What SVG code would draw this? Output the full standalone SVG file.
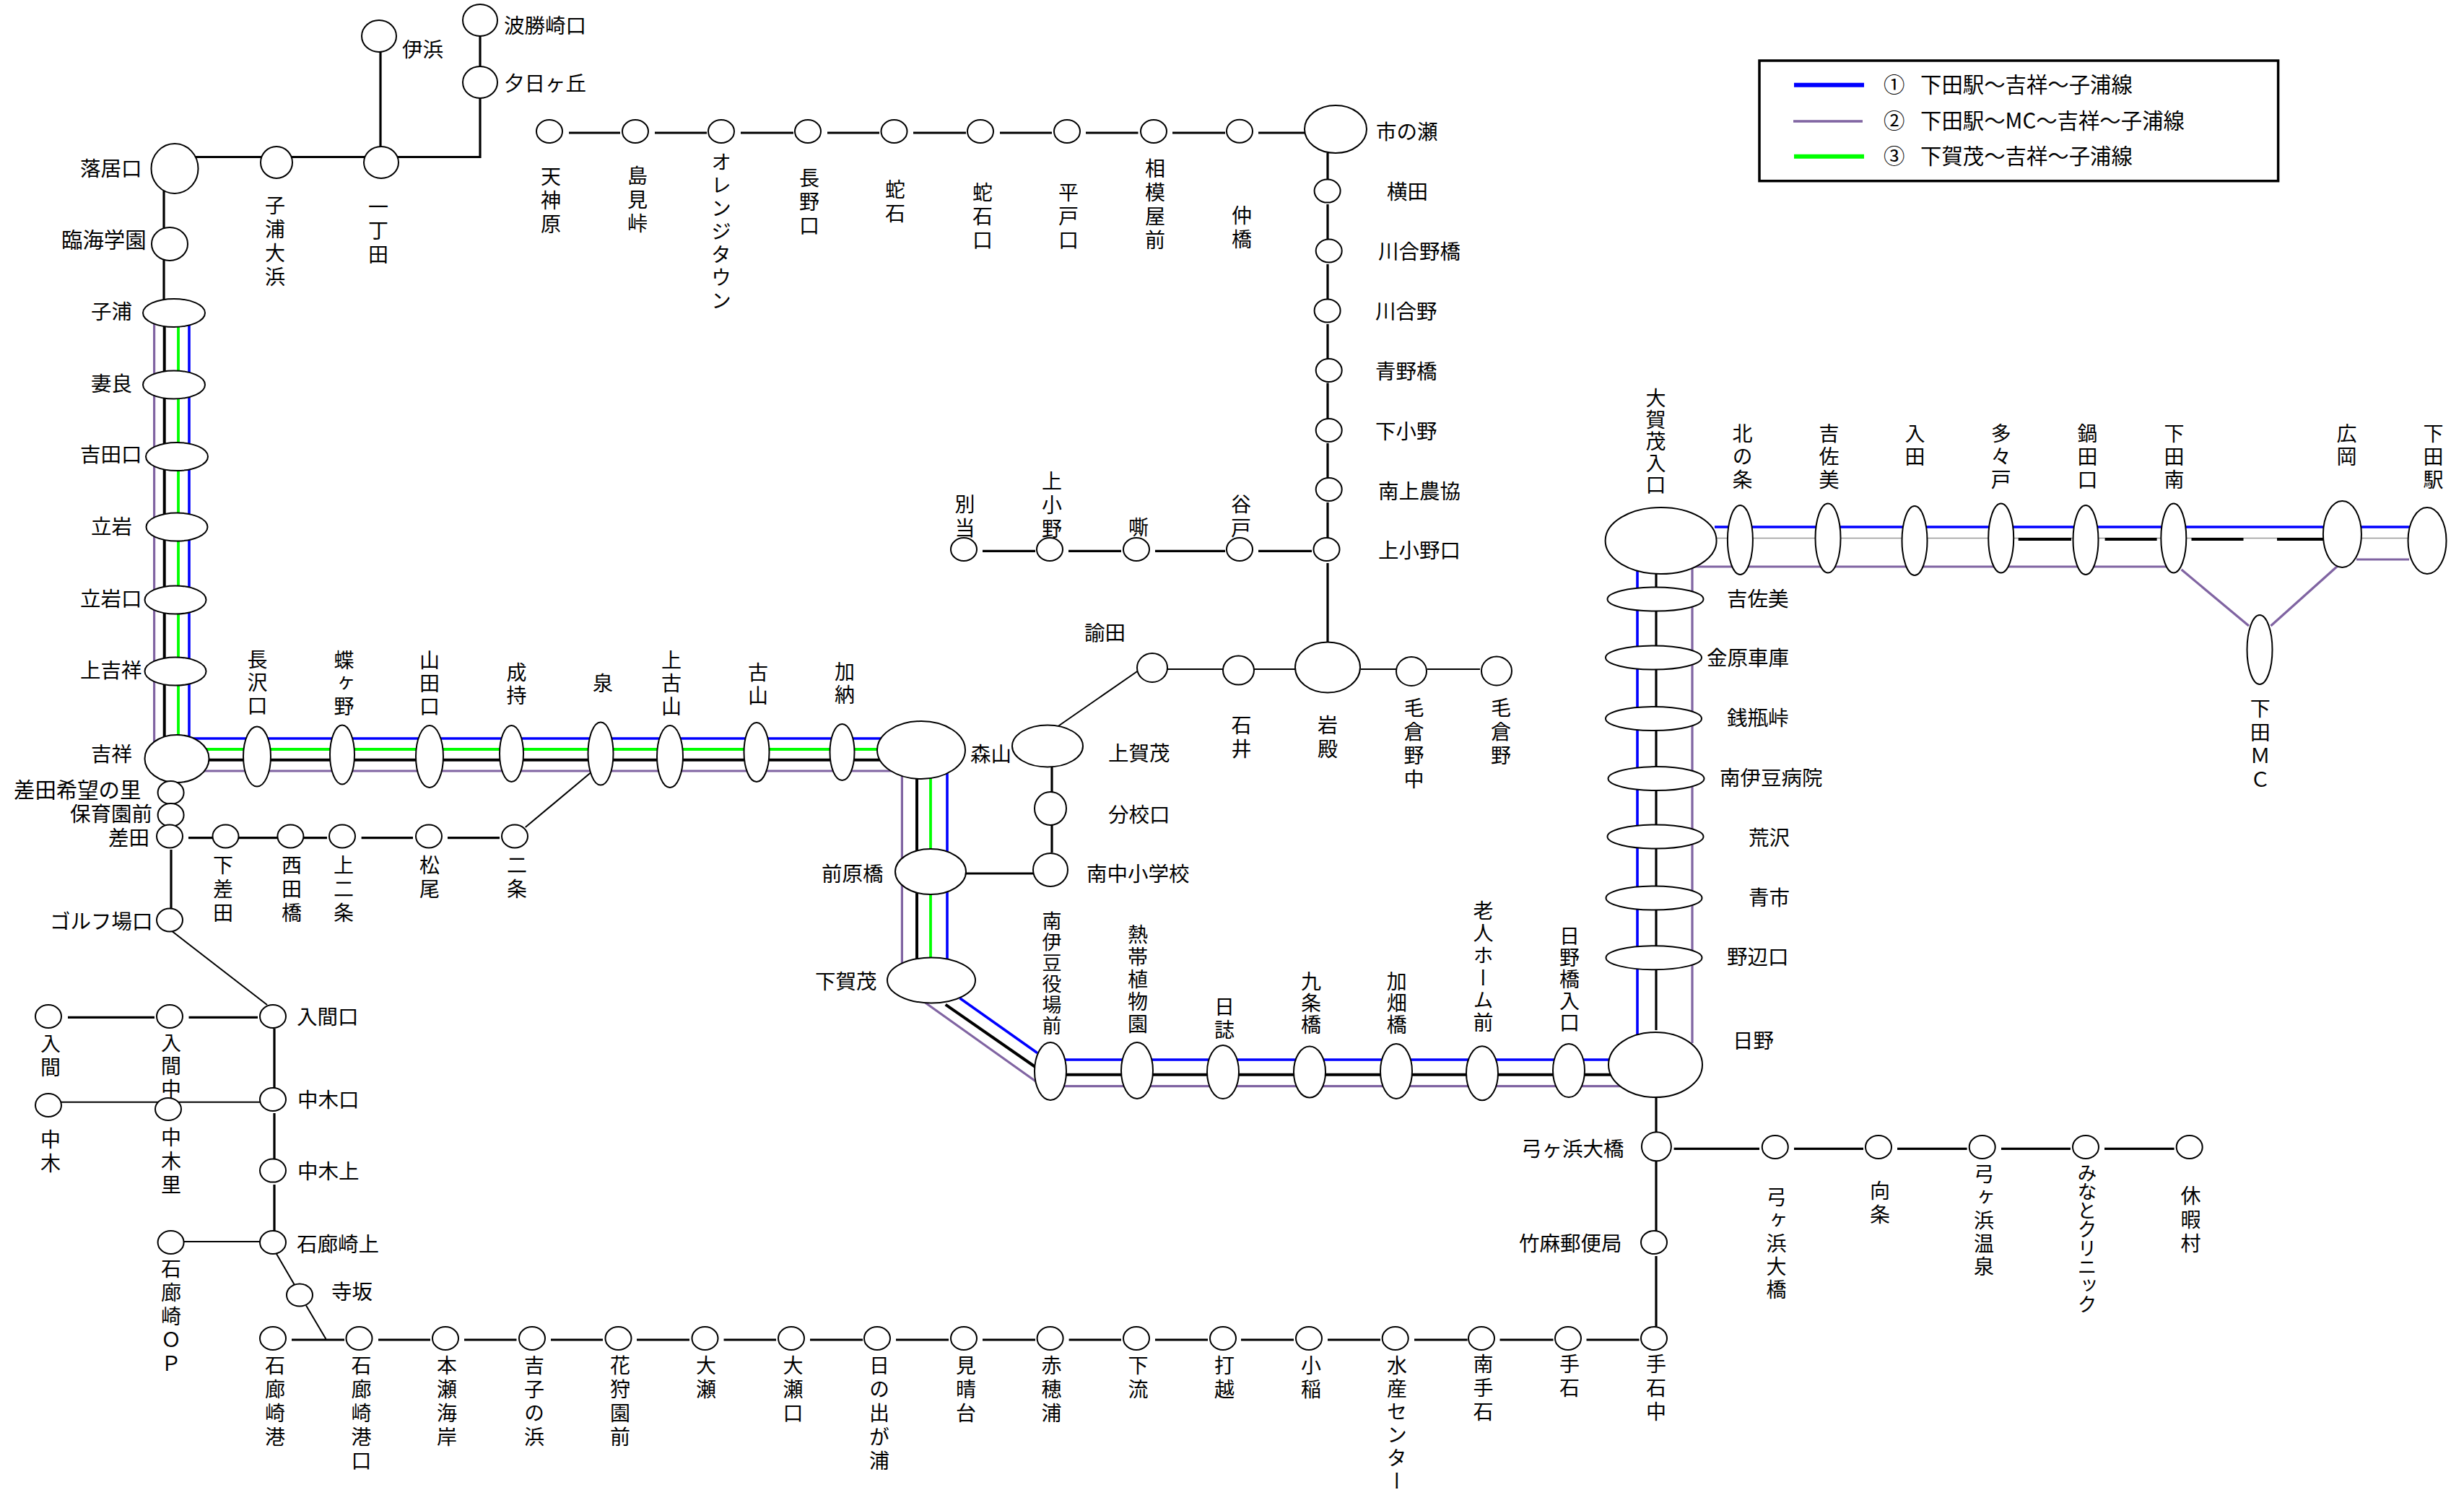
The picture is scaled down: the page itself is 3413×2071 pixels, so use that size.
<svg xmlns="http://www.w3.org/2000/svg" width="3413" height="2071" viewBox="0 0 3413 2071">
<style>
text{font-family:"Noto Sans CJK JP","Noto Sans",sans-serif;font-size:28.5px;fill:#000}
.w{font-size:29.4px}
.v{writing-mode:vertical-rl;text-orientation:upright;font-size:28px;letter-spacing:5px}
.p27{letter-spacing:-1px;font-size:27px}.p29{letter-spacing:2px;font-size:27px}.p30{letter-spacing:2px}.p31{letter-spacing:3px}.p32{letter-spacing:4px}
ellipse{fill:#fff;stroke:#000;stroke-width:2}
path{fill:none}
.k{stroke:#000;stroke-width:3.2}.t{stroke:#000;stroke-width:2}.g{stroke:#999;stroke-width:1.5}.d{stroke:#000;stroke-width:4}
.b{stroke:#00f;stroke-width:3.6}.u{stroke:#8064a2;stroke-width:3.2}.n{stroke:#0f0;stroke-width:3.8}
</style>
<g id="connectors">
<path class="k" d="M227 234V433M270 217.5H665V28M527 50V225"/>
<path class="k" d="M788 184H859M907 184H979M1026 184H1099M1146 184H1218M1265 184H1338M1385 184H1457M1504 184H1576.5M1624 184H1697M1743 184H1807"/>
<path class="k" d="M1839 212V248.6M1839 283V331.5M1839 366V414.4M1839 449V497M1839 530.6V580M1839 614V663M1839 696V746M1839 780V892"/>
<path class="k" d="M1361 763.3H1434M1480 763.3H1553M1600 763.3H1697M1743 763.3H1817"/>
<path class="t" d="M1465.6 1006L1576 929.5M1617 927H1695M1737 927H1794M1885 927H1934M1977 927H2050"/>
<path class="k" d="M1457 1061.6V1097M1457 1143V1181M1338 1210H1432"/>
<path class="b" d="M262 433V1023H1235"/>
<path class="n" d="M247 433V1051M245 1038H1235"/>
<path class="d" d="M227.7 433V1051M245 1052.7H1235"/>
<path class="u" d="M213.6 433V1051M245 1068H1249.4V1358"/>
<path class="b" d="M1312 1039V1358"/>
<path class="n" d="M1289 1039V1358"/>
<path class="d" d="M1270 1039V1358"/>
<path class="b" d="M1329.5 1382.7L1437 1458.7M1455 1468H2293"/>
<path class="d" d="M1309.7 1391.7L1434 1478M1455 1488.7H2293"/>
<path class="u" d="M1281.6 1389L1434.7 1498M1455 1504.7H2293"/>
<path class="b" d="M2268 749V1475"/>
<path class="k" d="M2294 795V1427M2294 1520V1568"/>
<path class="u" d="M2344 749V1445"/>
<path class="b" d="M2375 730H3340"/>
<path class="g" d="M2377 745.5H3337"/>
<path class="d" d="M2795.7 747H2869M2915.6 747H2987.6M3035.5 747H3107.5M3154 747H3218"/>
<path class="u" d="M2347 785H3005M3021.6 789L3115 867M3145.4 867L3238 784M3264 775H3337"/>
<path class="k" d="M2318.6 1591.3H2437M2485 1591.3H2581M2628 1591.3H2724.6M2772 1591.3H2868M2915 1591.3H3011.6"/>
<path class="k" d="M2294 1608V1705.7M2294 1740V1837.7"/>
<path class="k" d="M404 1856H477M524 1856H596M643 1856H715.5M763 1856H835M882 1856H955M1002.5 1856H1075M1122 1856H1195M1241 1856H1314M1361 1856H1434M1480.6 1856H1553M1600 1856H1673M1719 1856H1792M1839 1856H1912M1959 1856H2032.6M2077.5 1856H2151.5M2197.5 1856H2270.5"/>
<path class="k" d="M261 1160.7H296M330 1160.7H384.6M421 1160.7H453M500.6 1160.7H572M620 1160.7H692"/>
<path class="t" d="M727.7 1146L818 1070.5"/>
<path class="k" d="M237 1177V1258"/>
<path class="t" d="M237 1289L370 1392"/>
<path class="k" d="M94 1409.4H214M261.5 1409.4H357"/>
<path class="t" d="M85 1526.7H370M255 1720H362"/>
<path class="k" d="M380 1425V1507M380 1542V1606M380 1641V1706"/>
<path class="t" d="M383 1737L408 1780M424 1808.6L451.5 1855"/>
</g>
<g id="s01"><ellipse cx="665" cy="28" rx="24" ry="22"/><text x="698" y="46">波勝崎口</text></g>
<g id="s02"><ellipse cx="665" cy="114" rx="24" ry="22"/><text x="698" y="126">夕日ヶ丘</text></g>
<g id="s03"><ellipse cx="525" cy="50" rx="24" ry="22"/><text x="557" y="79">伊浜</text></g>
<g id="s04"><ellipse cx="528" cy="225" rx="24" ry="22"/><text class="v" x="524" y="272">一丁田</text></g>
<g id="s05"><ellipse cx="383" cy="225" rx="22" ry="22"/><text class="v" x="381" y="270">子浦大浜</text></g>
<g id="s06"><ellipse cx="242" cy="233.5" rx="32.5" ry="34.5"/><text x="111" y="244">落居口</text></g>
<g id="s07"><ellipse cx="235" cy="338" rx="25" ry="23"/><text class="w" x="85" y="343">臨海学園</text></g>
<g id="s08"><ellipse cx="241" cy="433.5" rx="43" ry="19.5"/><text x="126" y="442">子浦</text></g>
<g id="s09"><ellipse cx="241" cy="533" rx="43" ry="19.5"/><text x="126" y="542">妻良</text></g>
<g id="s10"><ellipse cx="245" cy="632.5" rx="43" ry="19.5"/><text x="111" y="640">吉田口</text></g>
<g id="s11"><ellipse cx="245" cy="730" rx="42.5" ry="19.5"/><text x="126" y="740">立岩</text></g>
<g id="s12"><ellipse cx="243" cy="831" rx="42.5" ry="19.5"/><text x="111" y="840">立岩口</text></g>
<g id="s13"><ellipse cx="243" cy="930" rx="42.5" ry="19.5"/><text x="111" y="939">上吉祥</text></g>
<g id="s14"><ellipse cx="245" cy="1051" rx="44.5" ry="33"/><text x="126" y="1055">吉祥</text></g>
<g id="s15"><ellipse cx="236.6" cy="1098" rx="18" ry="16"/><text class="w" x="19" y="1105">差田希望の里</text></g>
<g id="s16"><ellipse cx="236.6" cy="1129" rx="18" ry="16"/><text x="97" y="1138">保育園前</text></g>
<g id="s17"><ellipse cx="235" cy="1158.5" rx="18" ry="16"/><text x="150" y="1171">差田</text></g>
<g id="s18"><ellipse cx="312.5" cy="1158.5" rx="18" ry="16"/><text class="v" x="309" y="1184">下差田</text></g>
<g id="s19"><ellipse cx="402.4" cy="1158.5" rx="18" ry="16"/><text class="v" x="404" y="1184">西田橋</text></g>
<g id="s20"><ellipse cx="474" cy="1158.5" rx="18" ry="16"/><text class="v" x="476" y="1184">上二条</text></g>
<g id="s21"><ellipse cx="594" cy="1158.5" rx="18" ry="16"/><text class="v" x="595" y="1184">松尾</text></g>
<g id="s22"><ellipse cx="713" cy="1158.5" rx="18" ry="16"/><text class="v" x="716" y="1184">二条</text></g>
<g id="s23"><ellipse cx="235" cy="1274.5" rx="18" ry="16"/><text x="69" y="1287">ゴルフ場口</text></g>
<g id="s24"><ellipse cx="378" cy="1408" rx="18" ry="16"/><text x="411" y="1419">入間口</text></g>
<g id="s25"><ellipse cx="235" cy="1408" rx="18" ry="16"/></g>
<g id="s26"><ellipse cx="67" cy="1408" rx="18" ry="16"/><text class="v" x="70" y="1431">入間</text></g>
<g id="s27"><ellipse cx="67" cy="1531" rx="18" ry="16"/><text class="v" x="70" y="1564">中木</text></g>
<g id="s28"><ellipse cx="233" cy="1536.5" rx="18" ry="15.5"/><text class="v" x="237" y="1561">中木里</text></g>
<text id="s25-label" class="v p32" x="237" y="1430">入間中</text>
<g id="s29"><ellipse cx="378" cy="1523" rx="18" ry="16"/><text x="412" y="1534">中木口</text></g>
<g id="s30"><ellipse cx="378" cy="1621.6" rx="18" ry="16"/><text x="412" y="1633">中木上</text></g>
<g id="s31"><ellipse cx="378" cy="1721" rx="18" ry="16"/><text x="411" y="1734">石廊崎上</text></g>
<g id="s32"><ellipse cx="236.6" cy="1721" rx="18" ry="16"/><text class="v" x="237" y="1743">石廊崎ＯＰ</text></g>
<g id="s33"><ellipse cx="415" cy="1794" rx="18" ry="15.5"/><text x="459" y="1800">寺坂</text></g>
<g id="s34"><ellipse cx="378" cy="1854" rx="18" ry="16"/><text class="v" x="381" y="1877">石廊崎港</text></g>
<g id="s35"><ellipse cx="497.5" cy="1854" rx="18" ry="16"/><text class="v" x="500.6" y="1877">石廊崎港口</text></g>
<g id="s36"><ellipse cx="617" cy="1854" rx="18" ry="16"/><text class="v" x="619" y="1877">本瀬海岸</text></g>
<g id="s37"><ellipse cx="737" cy="1854" rx="18" ry="16"/><text class="v" x="740" y="1877">吉子の浜</text></g>
<g id="s38"><ellipse cx="856.5" cy="1854" rx="18" ry="16"/><text class="v" x="859" y="1877">花狩園前</text></g>
<g id="s39"><ellipse cx="976.5" cy="1854" rx="18" ry="16"/><text class="v" x="978" y="1877">大瀬</text></g>
<g id="s40"><ellipse cx="1096" cy="1854" rx="18" ry="16"/><text class="v" x="1098.5" y="1877">大瀬口</text></g>
<g id="s41"><ellipse cx="1215" cy="1854" rx="18" ry="16"/><text class="v" x="1218" y="1877">日の出が浦</text></g>
<g id="s42"><ellipse cx="1335" cy="1854" rx="18" ry="16"/><text class="v" x="1338" y="1877">見晴台</text></g>
<g id="s43"><ellipse cx="1454.6" cy="1854" rx="18" ry="16"/><text class="v" x="1456.6" y="1877">赤穂浦</text></g>
<g id="s44"><ellipse cx="1574" cy="1854" rx="18" ry="16"/><text class="v" x="1576.5" y="1877">下流</text></g>
<g id="s45"><ellipse cx="1694" cy="1854" rx="18" ry="16"/><text class="v" x="1696" y="1877">打越</text></g>
<g id="s46"><ellipse cx="1813" cy="1854" rx="18" ry="16"/><text class="v" x="1816" y="1877">小稲</text></g>
<g id="s47"><ellipse cx="1932.7" cy="1854" rx="18" ry="16"/><text class="v p32" x="1935" y="1877">水産センター</text></g>
<g id="s48"><ellipse cx="2052" cy="1854" rx="18" ry="16"/><text class="v" x="2054.6" y="1875">南手石</text></g>
<g id="s49"><ellipse cx="2172" cy="1854" rx="18" ry="16"/><text class="v" x="2174" y="1875">手石</text></g>
<g id="s50"><ellipse cx="2291" cy="1854" rx="18" ry="16"/><text class="v" x="2294" y="1875">手石中</text></g>
<g id="s51"><ellipse cx="2291" cy="1721" rx="18" ry="16"/><text x="2104" y="1733">竹麻郵便局</text></g>
<g id="s52"><ellipse cx="2294.4" cy="1588.3" rx="20.5" ry="20"/><text x="2107" y="1602">弓ヶ浜大橋</text></g>
<g id="s53"><ellipse cx="2458.8" cy="1589" rx="18" ry="16"/><text class="v p32" x="2460.6" y="1644">弓ヶ浜大橋</text></g>
<g id="s54"><ellipse cx="2602" cy="1589" rx="18" ry="16"/><text class="v" x="2604" y="1635">向条</text></g>
<g id="s55"><ellipse cx="2745.7" cy="1589" rx="18" ry="16"/><text class="v p32" x="2748" y="1612">弓ヶ浜温泉</text></g>
<g id="s56"><ellipse cx="2889" cy="1589" rx="18" ry="16"/><text class="v p27" x="2891" y="1611">みなとクリニック</text></g>
<g id="s57"><ellipse cx="3032.7" cy="1589" rx="18" ry="16"/><text class="v" x="3034.5" y="1642">休暇村</text></g>
<g id="s58"><ellipse cx="761" cy="182" rx="18" ry="16"/><text class="v" x="763" y="230">天神原</text></g>
<g id="s59"><ellipse cx="880" cy="182" rx="18" ry="16"/><text class="v" x="883" y="229">島見峠</text></g>
<g id="s60"><ellipse cx="999" cy="182" rx="18" ry="16"/><text class="v p32" x="999" y="210">オレンジタウン</text></g>
<g id="s61"><ellipse cx="1119" cy="182" rx="18" ry="16"/><text class="v" x="1121" y="232">長野口</text></g>
<g id="s62"><ellipse cx="1238.5" cy="182" rx="18" ry="16"/><text class="v" x="1240" y="248">蛇石</text></g>
<g id="s63"><ellipse cx="1358" cy="182" rx="18" ry="16"/><text class="v" x="1361" y="252">蛇石口</text></g>
<g id="s64"><ellipse cx="1478" cy="182" rx="18" ry="16"/><text class="v" x="1480" y="252">平戸口</text></g>
<g id="s65"><ellipse cx="1598" cy="182" rx="18" ry="16"/><text class="v" x="1600" y="219">相模屋前</text></g>
<g id="s66"><ellipse cx="1717" cy="181.7" rx="18" ry="16"/><text class="v" x="1720" y="284">仲橋</text></g>
<g id="s67"><ellipse cx="1850" cy="179" rx="43" ry="33"/><text x="1906" y="193">市の瀬</text></g>
<g id="s68"><ellipse cx="1838.6" cy="264.6" rx="18" ry="16"/><text x="1921" y="276">横田</text></g>
<g id="s69"><ellipse cx="1840.7" cy="347.5" rx="18" ry="16"/><text x="1909" y="359">川合野橋</text></g>
<g id="s70"><ellipse cx="1838.6" cy="430.4" rx="18" ry="16"/><text x="1905" y="442">川合野</text></g>
<g id="s71"><ellipse cx="1840.7" cy="513" rx="18" ry="16"/><text x="1905" y="525">青野橋</text></g>
<g id="s72"><ellipse cx="1840.7" cy="596" rx="18" ry="16"/><text x="1905" y="608">下小野</text></g>
<g id="s73"><ellipse cx="1840.7" cy="678" rx="18" ry="16"/><text x="1909" y="691">南上農協</text></g>
<g id="s74"><ellipse cx="1837.5" cy="761" rx="18" ry="16"/><text x="1909" y="773">上小野口</text></g>
<g id="s75"><ellipse cx="1717" cy="761" rx="18" ry="16"/><text class="v" x="1719" y="684">谷戸</text></g>
<g id="s76"><ellipse cx="1574" cy="761" rx="18" ry="16"/><text class="v" x="1577" y="716">嘶</text></g>
<g id="s77"><ellipse cx="1454" cy="761" rx="18" ry="16"/><text class="v" x="1457" y="652">上小野</text></g>
<g id="s78"><ellipse cx="1335" cy="761" rx="18" ry="16"/><text class="v" x="1336.5" y="684">別当</text></g>
<g id="s79"><ellipse cx="1839" cy="924.5" rx="45" ry="35"/><text class="v" x="1839" y="990">岩殿</text></g>
<g id="s80"><ellipse cx="1715.5" cy="928.6" rx="21.5" ry="20"/><text class="v" x="1719.4" y="990">石井</text></g>
<g id="s81"><ellipse cx="1596" cy="925" rx="21" ry="20"/><text x="1502" y="887">諭田</text></g>
<g id="s82"><ellipse cx="1955" cy="930" rx="21" ry="20"/><text class="v" x="1958.5" y="966">毛倉野中</text></g>
<g id="s83"><ellipse cx="2073" cy="929.5" rx="21" ry="20"/><text class="v" x="2079" y="966">毛倉野</text></g>
<g id="s84"><ellipse cx="1451" cy="1033.5" rx="49" ry="29"/><text x="1535" y="1054">上賀茂</text></g>
<g id="s85"><ellipse cx="1455" cy="1120" rx="22" ry="23"/><text x="1535" y="1139">分校口</text></g>
<g id="s86"><ellipse cx="1455" cy="1205" rx="24" ry="23"/><text x="1505" y="1221">南中小学校</text></g>
<g id="s87"><ellipse cx="356" cy="1048" rx="19" ry="41.5"/><text class="v p32" x="356.5" y="899">長沢口</text></g>
<g id="s88"><ellipse cx="474" cy="1045.5" rx="17" ry="41"/><text class="v p32" x="476.4" y="900">蝶ヶ野</text></g>
<g id="s89"><ellipse cx="595" cy="1048" rx="19" ry="43"/><text class="v p32" x="595" y="900">山田口</text></g>
<g id="s90"><ellipse cx="708.5" cy="1044" rx="16.5" ry="39"/><text class="v p32" x="715.6" y="917">成持</text></g>
<g id="s91"><ellipse cx="832" cy="1044" rx="17.5" ry="43.5"/><text class="v" x="835" y="932">泉</text></g>
<g id="s92"><ellipse cx="928" cy="1048" rx="18" ry="43"/><text class="v p32" x="930" y="900">上古山</text></g>
<g id="s93"><ellipse cx="1048" cy="1042" rx="17.5" ry="41"/><text class="v p32" x="1050" y="917">古山</text></g>
<g id="s94"><ellipse cx="1166.5" cy="1042" rx="17" ry="39"/><text class="v p32" x="1170" y="916">加納</text></g>
<g id="s95"><ellipse cx="1276" cy="1039" rx="61" ry="40"/><text x="1344" y="1055">森山</text></g>
<g id="s96"><ellipse cx="1289" cy="1207.6" rx="49" ry="31.5"/><text x="1138" y="1221">前原橋</text></g>
<g id="s97"><ellipse cx="1290" cy="1358" rx="61" ry="31.5"/><text x="1129" y="1370">下賀茂</text></g>
<g id="s98"><ellipse cx="1455" cy="1484" rx="22" ry="40"/><text class="v p29" x="1457" y="1262">南伊豆役場前</text></g>
<g id="s99"><ellipse cx="1575" cy="1483" rx="22" ry="39"/><text class="v p31" x="1576" y="1280">熱帯植物園</text></g>
<g id="s100"><ellipse cx="1694" cy="1485" rx="22" ry="37"/><text class="v p32" x="1696" y="1380">日誌</text></g>
<g id="s101"><ellipse cx="1814" cy="1485" rx="22" ry="35.5"/><text class="v p30" x="1816" y="1345">九条橋</text></g>
<g id="s102"><ellipse cx="1934" cy="1484" rx="22" ry="38"/><text class="v p30" x="1934.7" y="1345">加畑橋</text></g>
<g id="s103"><ellipse cx="2053" cy="1486.7" rx="22" ry="37.5"/><text class="v p31" x="2054.6" y="1247">老人ホーム前</text></g>
<g id="s104"><ellipse cx="2173" cy="1483" rx="22" ry="37"/><text class="v p30" x="2174" y="1282">日野橋入口</text></g>
<g id="s105"><ellipse cx="2293" cy="1475" rx="65" ry="45"/><text x="2400" y="1452">日野</text></g>
<g id="s106"><ellipse cx="2291" cy="1326.7" rx="66.5" ry="16.5"/><text x="2392" y="1336">野辺口</text></g>
<g id="s107"><ellipse cx="2291" cy="1244" rx="66.5" ry="16.5"/><text x="2422" y="1254">青市</text></g>
<g id="s108"><ellipse cx="2293" cy="1159" rx="66.5" ry="16.5"/><text x="2422" y="1171">荒沢</text></g>
<g id="s109"><ellipse cx="2294" cy="1078.6" rx="66.5" ry="16.5"/><text x="2382" y="1088">南伊豆病院</text></g>
<g id="s110"><ellipse cx="2290.5" cy="995.5" rx="66.5" ry="16.5"/><text x="2392" y="1005">銭瓶峠</text></g>
<g id="s111"><ellipse cx="2290.5" cy="911" rx="66.5" ry="16.5"/><text x="2364" y="922">金原車庫</text></g>
<g id="s112"><ellipse cx="2293" cy="830" rx="66.5" ry="16.5"/><text x="2392" y="840">吉佐美</text></g>
<g id="s113"><ellipse cx="2300.6" cy="749" rx="77" ry="46"/><text class="v p30" x="2293.6" y="537">大賀茂入口</text></g>
<g id="s114"><ellipse cx="2410.4" cy="748" rx="17.5" ry="48"/><text class="v p32" x="2413.5" y="586">北の条</text></g>
<g id="s115"><ellipse cx="2532" cy="745.5" rx="17.5" ry="48"/><text class="v p32" x="2533.4" y="586">吉佐美</text></g>
<g id="s116"><ellipse cx="2652" cy="749" rx="17.5" ry="48"/><text class="v p32" x="2652.6" y="586">入田</text></g>
<g id="s117"><ellipse cx="2771.7" cy="745.5" rx="17.5" ry="48"/><text class="v p32" x="2771.7" y="586">多々戸</text></g>
<g id="s118"><ellipse cx="2889" cy="748" rx="17.5" ry="48"/><text class="v p32" x="2891.6" y="586">鍋田口</text></g>
<g id="s119"><ellipse cx="3010.8" cy="745.5" rx="17.5" ry="48"/><text class="v p32" x="3011.5" y="586">下田南</text></g>
<g id="s120"><ellipse cx="3244.4" cy="740" rx="26.5" ry="46"/><text class="v p32" x="3250.6" y="586">広岡</text></g>
<g id="s121"><ellipse cx="3362" cy="749" rx="26.5" ry="46"/><text class="v p32" x="3370.5" y="586">下田駅</text></g>
<g id="s122"><ellipse cx="3130" cy="900" rx="17.5" ry="48"/><text class="v" x="3130.7" y="967">下田ＭＣ</text></g>
<g id="legend">
<rect x="2437" y="84" width="718.6" height="166.7" fill="#fff" stroke="#000" stroke-width="3.5"/>
<path d="M2485 117.7H2582" stroke="#00f" stroke-width="6"/>
<path d="M2484 168H2580" stroke="#8064a2" stroke-width="3.5"/>
<path d="M2485 216.7H2582" stroke="#0f0" stroke-width="6"/>
<text class="w" y="128"><tspan x="2609">①</tspan><tspan x="2660">下田駅～吉祥～子浦線</tspan></text>
<text class="w" y="178"><tspan x="2609">②</tspan><tspan x="2660">下田駅～MC～吉祥～子浦線</tspan></text>
<text class="w" y="227"><tspan x="2609">③</tspan><tspan x="2660">下賀茂～吉祥～子浦線</tspan></text>
</g>
</svg>
